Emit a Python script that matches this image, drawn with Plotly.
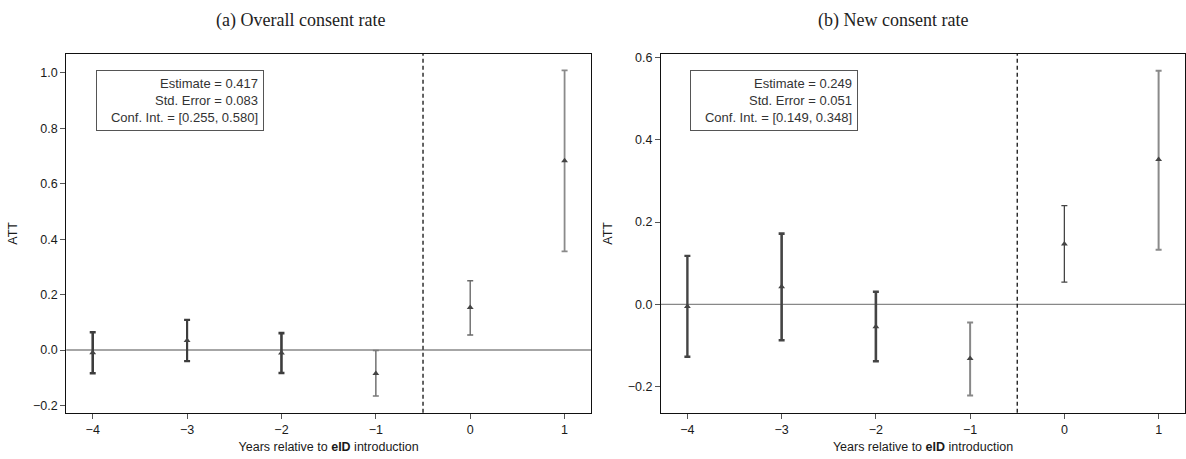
import plotly.graph_objects as go
from plotly.subplots import make_subplots

# Event-study estimates by years relative to eID introduction
periods = [-4, -3, -2, -1, 0, 1]

overall_att = [-0.010, 0.034, -0.011, -0.085, 0.153, 0.683]
overall_lo = [-0.084, -0.040, -0.083, -0.166, 0.054, 0.356]
overall_hi = [0.064, 0.109, 0.061, -0.002, 0.250, 1.009]

new_att = [-0.005, 0.043, -0.054, -0.131, 0.147, 0.352]
new_lo = [-0.127, -0.087, -0.138, -0.221, 0.054, 0.133]
new_hi = [0.118, 0.172, 0.031, -0.044, 0.240, 0.567]

panel_titles = ["(a) Overall consent rate", "(b) New consent rate"]
summary_overall = ["Estimate = 0.417", "Std. Error = 0.083", "Conf. Int. = [0.255, 0.580]"]
summary_new = ["Estimate = 0.249", "Std. Error = 0.051", "Conf. Int. = [0.149, 0.348]"]

overall_yticks = [-0.2, 0.0, 0.2, 0.4, 0.6, 0.8, 1.0]
new_yticks = [-0.2, 0.0, 0.2, 0.4, 0.6]

# per-period bar styling (colour, line width)
overall_style = [("#3d3d3d", 2.6), ("#3d3d3d", 2.2), ("#3d3d3d", 2.6),
                 ("#7a7a7a", 1.6), ("#6a6a6a", 1.4), ("#8a8a8a", 1.8)]
new_style = [("#444444", 2.4), ("#444444", 2.6), ("#444444", 2.6),
             ("#888888", 2.0), ("#444444", 1.3), ("#8a8a8a", 2.0)]

W, H = 1186, 459
SANS = "Liberation Sans, Arial"
fig = make_subplots(rows=1, cols=2)

def add_panel(col, att, lo, hi, styles):
    for x, a, l, h, (c, w) in zip(periods, att, lo, hi, styles):
        fig.add_trace(go.Scatter(
            x=[x], y=[a], mode="markers",
            marker=dict(symbol="triangle-up", size=6, color="#444444"),
            error_y=dict(type="data", symmetric=False,
                         array=[h - a], arrayminus=[a - l],
                         color=c, thickness=w, width=3),
            showlegend=False, hoverinfo="skip"),
            row=1, col=col)

add_panel(1, overall_att, overall_lo, overall_hi, overall_style)
add_panel(2, new_att, new_lo, new_hi, new_style)

ydom = [1 - 412.5 / H, 1 - 51.3 / H]
xdom1 = [66.3 / W, 591 / W]
xdom2 = [661 / W, 1185 / W]

axis_common = dict(showline=True, linecolor="#111111", linewidth=1.3, mirror=True,
                   ticks="outside", ticklen=5, tickcolor="#555555", tickwidth=1,
                   showgrid=False, zeroline=False,
                   tickfont=dict(family=SANS, size=12.5, color="#1a1a1a"))

xtitle = dict(text="Years relative to <b>eID</b> introduction",
              font=dict(family=SANS, size=12.5, color="#1a1a1a"), standoff=6)
ytitle = dict(text="ATT", font=dict(family=SANS, size=12.5, color="#1a1a1a"), standoff=12)

fig.update_xaxes(domain=xdom1, range=[-4.28, 1.28], tickvals=periods, title=xtitle,
                 **axis_common, row=1, col=1)
fig.update_xaxes(domain=xdom2, range=[-4.28, 1.28], tickvals=periods, title=xtitle,
                 **axis_common, row=1, col=2)
fig.update_yaxes(domain=ydom, range=[-0.2265, 1.068], tickvals=overall_yticks,
                 tickformat=".1f", title=ytitle, **axis_common, row=1, col=1)
fig.update_yaxes(domain=ydom, range=[-0.263, 0.608], tickvals=new_yticks,
                 tickformat=".1f", title=ytitle, **axis_common, row=1, col=2)

for xr, yr in (("x", "y"), ("x2", "y2")):
    # zero reference line
    fig.add_shape(type="line", xref=f"{xr} domain", yref=yr, x0=0, x1=1, y0=0, y1=0,
                  line=dict(color="#888888", width=1.3), layer="below")
    # treatment onset
    fig.add_shape(type="line", xref=xr, yref=f"{yr} domain", x0=-0.5, x1=-0.5, y0=0, y1=1,
                  line=dict(color="#111111", width=1.3, dash="4px,3px"))

for xr, yr, lines in (("x", "y", summary_overall), ("x2", "y2", summary_new)):
    fig.add_annotation(xref=f"{xr} domain", yref=f"{yr} domain",
                       x=(29.5 / 525), y=1 - (16.4 / 361.2),
                       xanchor="left", yanchor="top", showarrow=False,
                       text="<br>".join(lines), align="right", width=156,
                       font=dict(family=SANS, size=13, color="#333333"),
                       bordercolor="#555555", borderwidth=1, borderpad=5, bgcolor="white")

for cx, t in zip([300 / W, 893 / W], panel_titles):
    fig.add_annotation(xref="paper", yref="paper", x=cx, y=1 - 18 / H,
                       xanchor="center", yanchor="middle", showarrow=False, text=t,
                       font=dict(family="Liberation Serif, DejaVu Serif", size=18, color="#222222"))

fig.update_layout(width=W, height=H, margin=dict(l=0, r=0, t=0, b=0),
                  plot_bgcolor="white", paper_bgcolor="white")

fig.write_html("out.html")
